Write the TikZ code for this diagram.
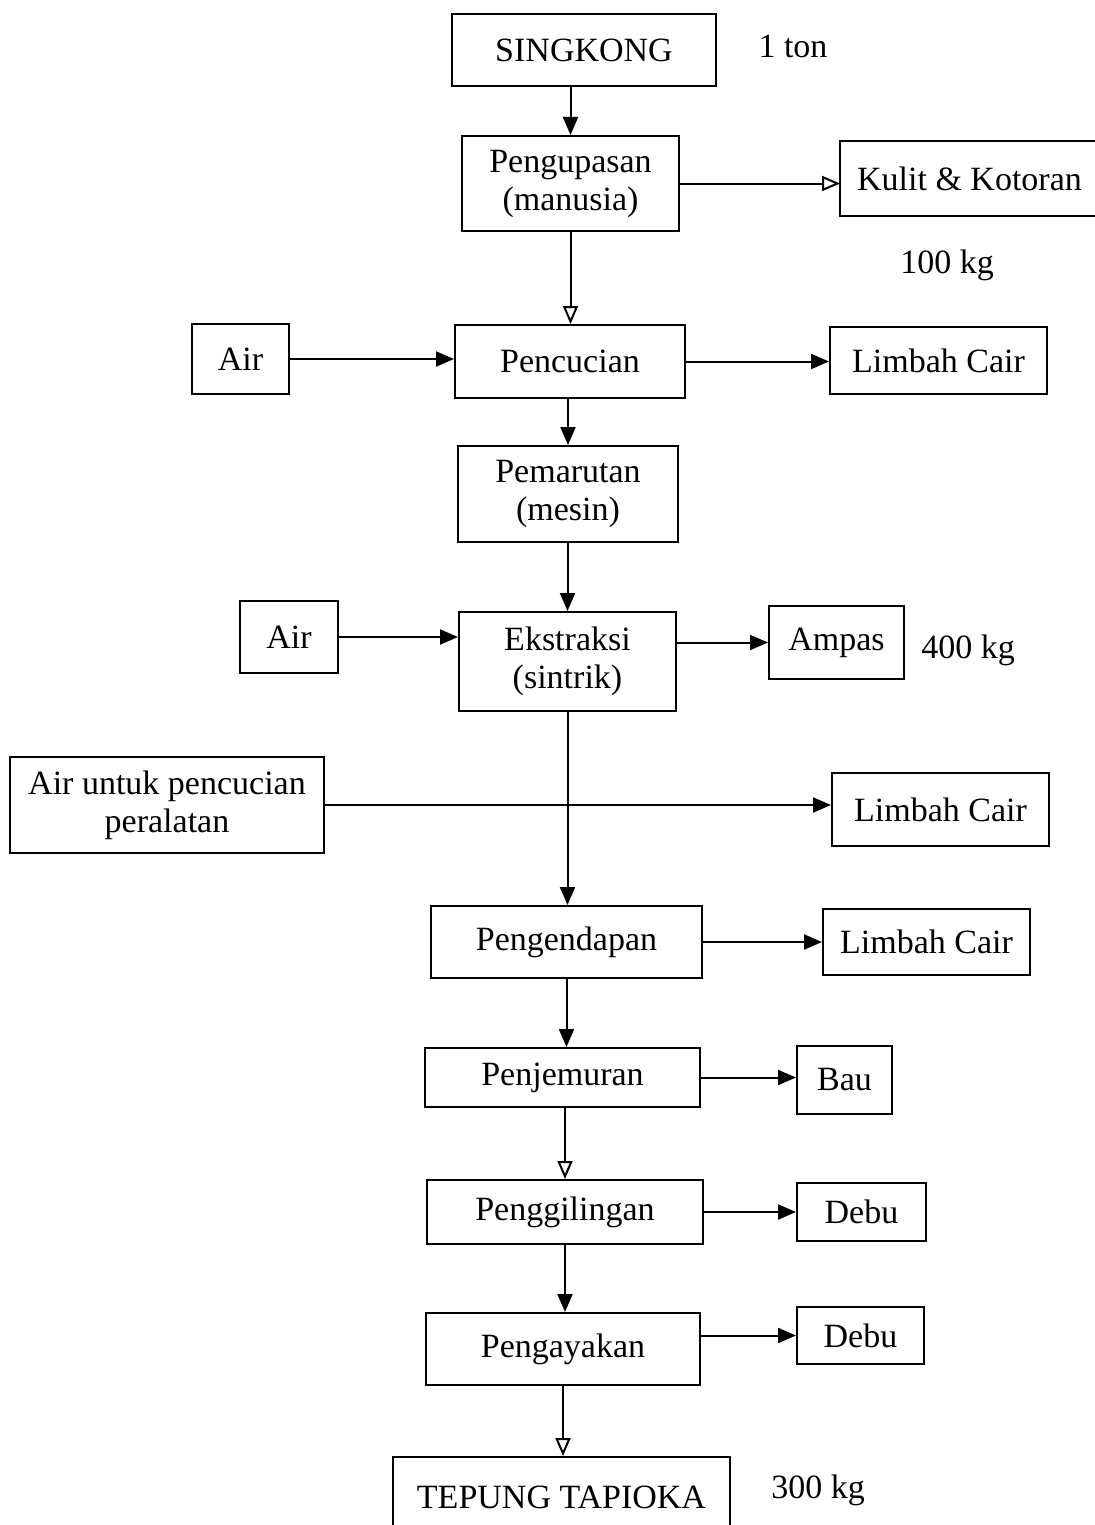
\documentclass[tikz,border=0pt]{standalone}
\usepackage{fontspec}
\setmainfont{Liberation Serif}
\usetikzlibrary{arrows.meta}

\begin{document}
\begin{tikzpicture}[
  x=0.5pt, y=-0.5pt,
  box/.style={draw, line width=1pt, inner sep=0pt, align=center, font=\fontsize{17}{19}\selectfont},
  lbl/.style={font=\fontsize{17}{19}\selectfont},
  arr/.style={-{Triangle[length=9pt, width=7.5pt]}, line width=1pt},
  openarr/.style={-{Triangle[open, length=9pt, width=7.5pt, fill=white]}, line width=1pt}
]
  \useasboundingbox (0,0) rectangle (1094,1525);

  % Bahan baku
  \node[box, minimum width=132pt, minimum height=36pt] (singkong) at (584,50) {SINGKONG};
  \node[lbl] (ton) at (793,46) {1 ton};

  % Pengupasan
  \node[box, minimum width=108.5pt, minimum height=47.5pt] (kupas) at (570.5,183.5) {Pengupasan\\(manusia)};
  \node[box, draw=none, minimum width=128.5pt, minimum height=36.5pt] (kulit) at (969.5,178.5) {Kulit \& Kotoran};
  \draw[line width=1pt] (kulit.north east) -- (kulit.north west) -- (kulit.south west) -- (kulit.south east);
  \node[lbl] (kulitkg) at (947,265) {100 kg};
  \draw[arr] (kupas |- singkong.south) -- (kupas.north);
  \draw[openarr] (kupas.east) -- (kupas.east -| kulit.west);

  % Pencucian
  \node[box, minimum width=48.5pt, minimum height=35pt] (aira) at (240.5,359) {Air};
  \node[box, minimum width=115pt, minimum height=36.5pt] (cuci) at (570,361.5) {Pencucian};
  \node[box, minimum width=108.5pt, minimum height=33.5pt] (limbaha) at (938.5,360.5) {Limbah Cair};
  \draw[openarr] (kupas.south) -- (kupas.south |- cuci.north);
  \draw[arr] (aira.east) -- (aira.east -| cuci.west);
  \draw[arr] (cuci.east) -- (cuci.east -| limbaha.west);

  % Pemarutan
  \node[box, minimum width=110pt, minimum height=48pt] (parut) at (568,494) {Pemarutan\\(mesin)};
  \draw[arr] (parut |- cuci.south) -- (parut.north);

  % Ekstraksi
  \node[box, minimum width=49pt, minimum height=36pt] (airb) at (289,637) {Air};
  \node[box, minimum width=108.5pt, minimum height=49.5pt] (ekstrak) at (567.5,661.5) {Ekstraksi\\(sintrik)};
  \node[box, minimum width=67.5pt, minimum height=36.5pt] (ampas) at (836.5,642.5) {Ampas};
  \node[lbl] (ampaskg) at (968,650) {400 kg};
  \draw[arr] (ekstrak |- parut.south) -- (ekstrak.north);
  \draw[arr] (airb.east) -- (airb.east -| ekstrak.west);
  \draw[arr] (ekstrak.east |- ampas) -- (ampas.west);

  % Air pencucian alat
  \node[box, minimum width=157pt, minimum height=48pt] (airalat) at (167,805) {Air untuk pencucian\\peralatan};
  \node[box, minimum width=108.5pt, minimum height=36.5pt] (limbahb) at (940.5,809.5) {Limbah Cair};
  \draw[arr] (airalat.east) -- (airalat.east -| limbahb.west);

  % Pengendapan
  \node[box, minimum width=135.5pt, minimum height=36pt] (endap) at (566.5,942) {Pengendapan};
  \node[box, minimum width=103.5pt, minimum height=33pt] (limbahc) at (926.5,942) {Limbah Cair};
  \draw[arr] (ekstrak.south) -- (ekstrak.south |- endap.north);
  \draw[arr] (endap.east) -- (endap.east -| limbahc.west);

  % Penjemuran
  \node[box, minimum width=137.5pt, minimum height=29.5pt] (jemur) at (562.5,1077.5) {Penjemuran};
  \node[box, minimum width=47.5pt, minimum height=34pt] (bau) at (844.5,1080) {Bau};
  \draw[arr] (endap.south) -- (endap.south |- jemur.north);
  \draw[arr] (jemur.east) -- (jemur.east -| bau.west);

  % Penggilingan
  \node[box, minimum width=138pt, minimum height=32pt] (giling) at (565,1212) {Penggilingan};
  \node[box, minimum width=64.5pt, minimum height=29pt] (debua) at (861.5,1212) {Debu};
  \draw[openarr] (giling |- jemur.south) -- (giling.north);
  \draw[arr] (giling.east) -- (giling.east -| debua.west);

  % Pengayakan
  \node[box, minimum width=137pt, minimum height=36pt] (ayak) at (563,1349) {Pengayakan};
  \node[box, minimum width=63.5pt, minimum height=28.5pt] (debub) at (860.5,1335.5) {Debu};
  \draw[arr] (giling.south) -- (giling.south |- ayak.north);
  \draw[arr] (ayak.east |- debub) -- (debub.west);

  % Produk
  \node[box, minimum width=168.5pt, minimum height=40pt] (tepung) at (561.5,1497) {TEPUNG TAPIOKA};
  \node[lbl] (tepungkg) at (818,1490) {300 kg};
  \draw[openarr] (ayak.south) -- (ayak.south |- tepung.north);
\end{tikzpicture}
\end{document}
